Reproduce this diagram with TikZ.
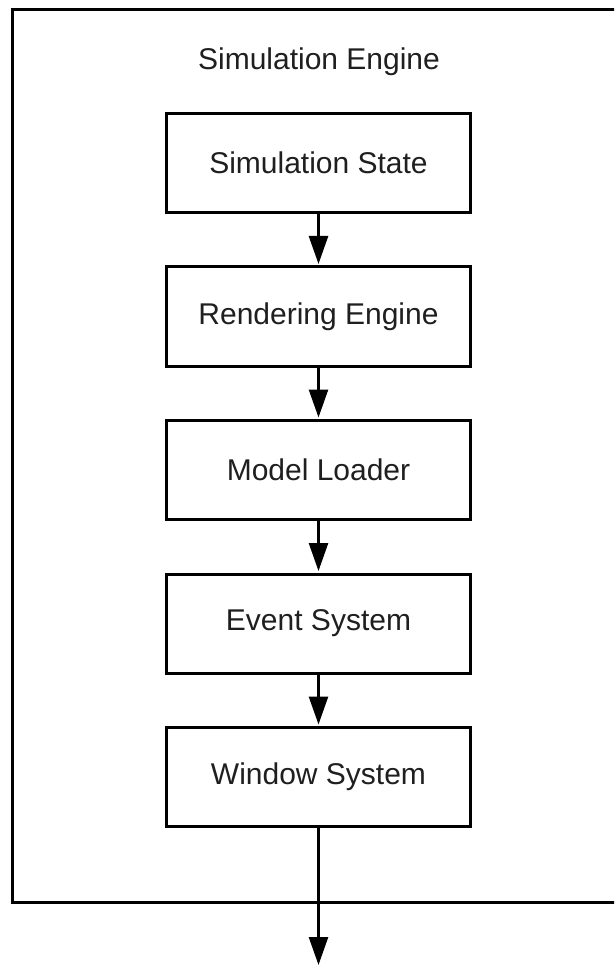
\documentclass[tikz,border=0pt]{standalone}
\usepackage{fontspec}
\setmainfont{Liberation Sans}
\usetikzlibrary{arrows.meta}

\tikzset{
  module/.style={draw=black, line width=3pt, fill=white,
    minimum width=304pt, minimum height=99pt, inner sep=0pt,
    font=\fontsize{30}{36}\selectfont, text=black!88},
  flow/.style={draw=black, line width=2.6pt,
    -{Triangle[width=19pt,length=28pt]}, shorten >=1.5pt},
  frame/.style={draw=black, line width=3pt},
  caption/.style={font=\fontsize{30}{36}\selectfont, text=black!88, anchor=base, inner sep=0pt}
}

\begin{document}
\begin{tikzpicture}[x=1pt, y=-1pt]
  \useasboundingbox (0,0) rectangle (614,965);
  \clip (0,0) rectangle (614,965);

  % engine container, its right side runs past the page edge
  \draw[frame] (12,10) rectangle (640,902);
  \node[caption] (title) at (319,70) {Simulation Engine};

  % pipeline stages
  \node[module] (state)  at (318.5,163)   {Simulation State};
  \node[module] (render) at (318.5,316.5) {Rendering Engine};
  \node[module] (loader) at (318.5,470)   {Model Loader};
  \node[module] (events) at (318.5,623.5) {Event System};
  \node[module] (window) at (318.5,777)   {Window System};

  \coordinate (out) at (318.5,965);

  \draw[flow] (state)  -- (render);
  \draw[flow] (render) -- (loader);
  \draw[flow] (loader) -- (events);
  \draw[flow] (events) -- (window);
  \draw[flow, shorten >=0pt] (window) -- (out);
\end{tikzpicture}
\end{document}
